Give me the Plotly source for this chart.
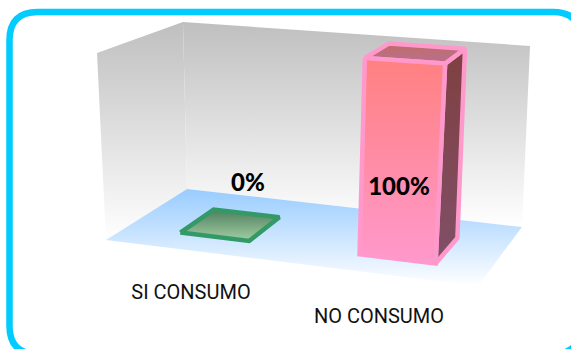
import plotly.graph_objects as go

categories = ["SI CONSUMO", "NO CONSUMO"]
values = [0, 100]
value_labels = ["0%", "100%"]

W, H = 571, 349
AXIS_MAX = 100
F00, F10, F01, F11 = (106, 240), (478, 286), (187, 189), (522, 227)
R00, R10, R01, R11 = (-9, -187), (14, -205), (-4, -167), (8, -181)


def bil(a, b, c, d, u, v):
    return tuple((1-u)*(1-v)*a[i] + u*(1-v)*b[i] + (1-u)*v*c[i] + u*v*d[i] for i in (0, 1))


def project(u, v, value, lift=1.0):
    p = bil(F00, F10, F01, F11, u, v)
    r = bil(R00, R10, R01, R11, u, v)
    t = value / AXIS_MAX * lift
    return (p[0] + r[0]*t, p[1] + r[1]*t)


def poly(points, stops, line=None, width=0):
    xs = [p[0] for p in points] + [points[0][0]]
    ys = [p[1] for p in points] + [points[0][1]]
    n = len(stops) - 1
    return go.Scatter(
        x=xs, y=ys, mode="lines" if line else "none", fill="toself",
        fillgradient=dict(type="vertical",
                          colorscale=[[i/n, c] for i, c in enumerate(stops)]),
        line=dict(color=line or "rgba(0,0,0,0)", width=width),
        hoverinfo="skip", showlegend=False)


fig = go.Figure()
WALL = ["#ffffff", "#bfbfbf"]
fig.add_trace(poly([project(0, 0, 100), project(0, 1, 100), project(0, 1, 0), project(0, 0, 0)], WALL))
fig.add_trace(poly([project(0, 1, 100), project(1, 1, 100), project(1, 1, 0), project(0, 1, 0)], WALL))
fig.add_trace(poly([project(0, 1, 0), project(1, 1, 0), project(1, 0, 0), project(0, 0, 0)], ["#ffffff", "#99ccff"]))

styles = [
    dict(line="#339966", front=["#99cc99", "#4f8060"], top=["#a3cfa3", "#4f7f5f"], side=["#4f8060", "#4f8060"],
         u=(0.145, 0.335)),
    dict(line="#ff99cc", front=["#ff99cc", "#ff8080"], top=["#b8708f", "#c06c68"], side=["#805068", "#7f4040"],
         u=(0.64, 0.85)),
]
V0, V1, BAR_LIFT = 0.27, 0.71, 1.02
for i, val in enumerate(values):
    s = styles[i]
    u0, u1 = s["u"]
    if val > 0:
        fig.add_trace(poly([project(u1, V0, val, BAR_LIFT), project(u1, V1, val, BAR_LIFT), project(u1, V1, 0), project(u1, V0, 0)],
                           s["side"], s["line"], 4.5))
    fig.add_trace(poly([project(u0, V0, val, BAR_LIFT), project(u1, V0, val, BAR_LIFT), project(u1, V1, val, BAR_LIFT), project(u0, V1, val, BAR_LIFT)],
                       s["top"], s["line"], 4.5))
    if val > 0:
        fig.add_trace(poly([project(u0, V0, val, BAR_LIFT), project(u1, V0, val, BAR_LIFT), project(u1, V0, 0), project(u0, V0, 0)],
                           s["front"], s["line"], 4.5))

fig.add_trace(go.Scatter(x=[248, 399], y=[185, 189], mode="text", text=value_labels,
                         textfont=dict(family="Lato, sans-serif", size=24, color="#000000", weight=900),
                         hoverinfo="skip", showlegend=False))
fig.add_trace(go.Scatter(x=[191, 379], y=[294, 318], mode="text", text=categories,
                         textfont=dict(family="Roboto, Liberation Sans", size=20, color="#111111"),
                         hoverinfo="skip", showlegend=False))

fig.update_layout(
    width=W, height=H, margin=dict(l=0, r=0, t=0, b=0),
    paper_bgcolor="#ffffff", plot_bgcolor="#ffffff",
    xaxis=dict(range=[0, W], visible=False, fixedrange=True),
    yaxis=dict(range=[H, 0], visible=False, fixedrange=True),
    shapes=[dict(type="path", layer="below",
                 path="M 37.5 12 L 553 12 Q 581 12 581 40 L 581 326 Q 581 354 553 354 "
                      "L 37.5 354 Q 9.5 354 9.5 326 L 9.5 40 Q 9.5 12 37.5 12 Z",
                 line=dict(color="#00ccff", width=6.5), fillcolor="#ffffff")],
)
fig.write_html("out.html", config=dict(displayModeBar=False),
               post_script="document.body.style.margin='0';document.documentElement.style.overflow='hidden';")
